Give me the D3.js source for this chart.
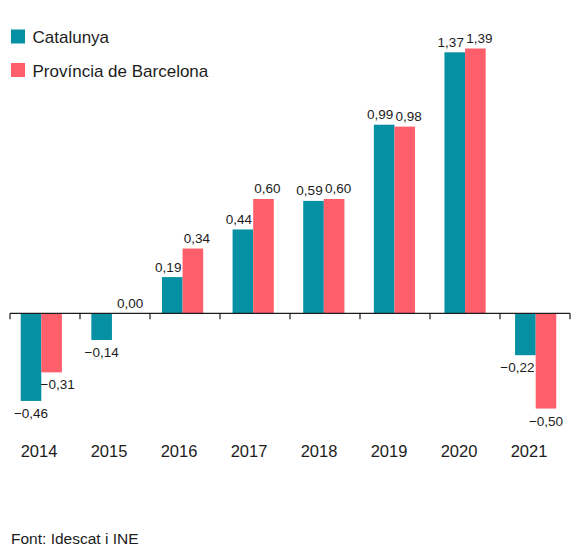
<!DOCTYPE html>
<html>
<head>
  <meta charset="utf-8">
  <script src="https://d3js.org/d3.v7.min.js"></script>
  <style>
    body {
  margin: 0;
  background: #ffffff;
  font-family: 'Liberation Sans', Arial, sans-serif;
}

svg {
  display: block;
}

.value {
  font-size: 13.5px;
  fill: #1c1c1c;
  text-anchor: middle;
}

.year {
  font-size: 16.5px;
  fill: #1c1c1c;
  text-anchor: middle;
}

.legend text {
  font-size: 17px;
  fill: #1c1c1c;
}

.source {
  font-size: 15.5px;
  fill: #1c1c1c;
}
  </style>
</head>
<body>
<script>
// Years on the x axis.
const years = ["2014", "2015", "2016", "2017", "2018", "2019", "2020", "2021"];

// Series values (percent).
const catalunya = [-0.46, -0.14, 0.19, 0.44, 0.59, 0.99, 1.37, -0.22];
const barcelona = [-0.31, 0.00, 0.34, 0.60, 0.60, 0.98, 1.39, -0.50];

const seriesNames = ["Catalunya", "Província de Barcelona"];
const seriesColors = ["#0591a3", "#ff5e6b"];

const width = 583;
const height = 556;

const svg = d3.select("body")
  .append("svg")
  .attr("width", width)
  .attr("height", height);

// Scale for the axis ticks, and a slightly wider one for the bar groups.
const xAxis = d3.scaleBand()
  .domain(years)
  .range([10, 570]);

const x = d3.scaleBand()
  .domain(years)
  .range([6, 571]);

const xInner = d3.scaleBand()
  .domain(seriesNames)
  .range([0, 41.2]);

const y = d3.scaleLinear()
  .domain([-0.5, 1.39])
  .range([408.55, 48.5]);

const fmt = v => d3.format(".2f")(v).replace(".", ",").replace("-", "\u2212");

// Build rows for each bar.
const bars = [];
years.forEach((yr, i) => {
  [catalunya, barcelona].forEach((vals, s) => {
    bars.push({ year: yr, series: seriesNames[s], s: s, value: vals[i] });
  });
});

const groupOffset = d => x(d.year) + x.bandwidth() / 2 - 41.2 / 2;

svg.selectAll(".bar")
  .data(bars)
  .enter()
  .append("rect")
  .attr("class", "bar")
  .attr("x", d => groupOffset(d) + xInner(d.series))
  .attr("width", xInner.bandwidth())
  .attr("y", d => Math.min(y(d.value), y(0)))
  .attr("height", d => Math.abs(y(d.value) - y(0)))
  .attr("fill", d => seriesColors[d.s]);

// Value labels: pushed slightly apart so neighbouring labels don't touch.
svg.selectAll(".value")
  .data(bars)
  .enter()
  .append("text")
  .attr("class", "value")
  .attr("x", d => {
    const cx = groupOffset(d) + xInner(d.series) + xInner.bandwidth() / 2;
    if (d.value < 0) {
      const i = years.indexOf(d.year);
      const other = d.s === 0 ? barcelona[i] : catalunya[i];
      if (other < 0 && Math.abs(d.value) < Math.abs(other)) return cx + (d.s === 0 ? -8 : 6);
      return cx;
    }
    if (d.value === 0) return cx + 8;
    return cx + (d.s === 0 ? -4 : 4);
  })
  .attr("y", d => d.value < 0 ? y(d.value) + 17 : y(d.value) - 5.5)
  .text(d => fmt(d.value));

// Axis line with ticks at band edges.
const y0 = y(0);
const edges = years.map(yr => xAxis(yr)).concat([xAxis.range()[1]]);

svg.append("line")
  .attr("x1", xAxis.range()[0])
  .attr("x2", xAxis.range()[1])
  .attr("y1", y0)
  .attr("y2", y0)
  .attr("stroke", "#1c1c1c")
  .attr("stroke-width", 1.2);

svg.selectAll(".tick")
  .data(edges)
  .enter()
  .append("line")
  .attr("class", "tick")
  .attr("x1", d => d)
  .attr("x2", d => d)
  .attr("y1", y0)
  .attr("y2", y0 + 6)
  .attr("stroke", "#1c1c1c")
  .attr("stroke-width", 1.2);

svg.selectAll(".year")
  .data(years)
  .enter()
  .append("text")
  .attr("class", "year")
  .attr("x", d => xAxis(d) + xAxis.bandwidth() / 2 - 6)
  .attr("y", 456.5)
  .text(d => d);

// Legend.
const legend = svg.append("g").attr("class", "legend");
const items = legend.selectAll("g")
  .data(seriesNames)
  .enter()
  .append("g")
  .attr("transform", (d, i) => `translate(11,${29.5 + i * 33.5})`);

items.append("rect")
  .attr("width", 14)
  .attr("height", 14)
  .attr("fill", (d, i) => seriesColors[i]);

items.append("text")
  .attr("x", 21.5)
  .attr("y", 13.5)
  .text(d => d);

// Source note.
svg.append("text")
  .attr("class", "source")
  .attr("x", 11)
  .attr("y", 544)
  .text("Font: Idescat i INE");
</script>
</body>
</html>
